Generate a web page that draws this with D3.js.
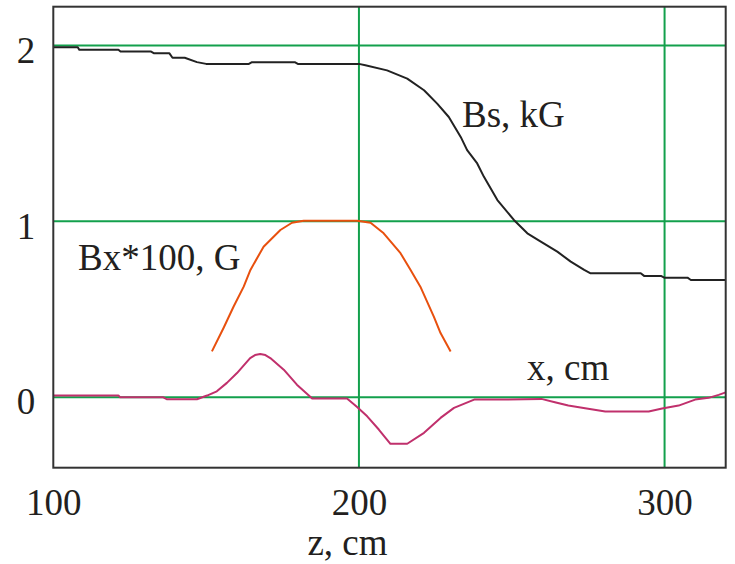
<!DOCTYPE html>
<html><head><meta charset="utf-8">
<script src="https://cdn.jsdelivr.net/npm/d3@7"></script>
<style>body{margin:0;background:#fff}svg{display:block}</style>
</head><body>
<svg id="c" width="735" height="564"></svg>
<script>
// Data (z in cm)
const bsZ = [100,108,108.5,121.3,122,132,133,138,139,143,147,150,164,165,179,180,200,202.1,209.2,215.8,221.3,225.6,229.4,233.3,235.4,238.7,240.9,245.3,250.7,255.1,259.5,264.9,269.3,273.7,275.8,292.2,293.3,298.8,299.9,307.5,308.6,320];
const bsV = [1.99,1.99,1.975,1.975,1.965,1.965,1.955,1.955,1.93,1.93,1.905,1.895,1.895,1.905,1.905,1.895,1.895,1.887,1.858,1.811,1.745,1.669,1.593,1.48,1.405,1.329,1.253,1.121,1.008,0.932,0.885,0.828,0.771,0.724,0.705,0.705,0.69,0.69,0.68,0.68,0.667,0.667];
const bxZ = [151.9,155.7,159.0,162.3,164.5,168.8,174.3,178.1,181.9,199.4,203.8,208.1,213.6,216.9,220.1,224.5,226.7,230.0];
const bxV = [0.261,0.394,0.516,0.629,0.724,0.856,0.951,0.992,1.004,1.004,0.992,0.932,0.819,0.724,0.629,0.459,0.365,0.261];
const xZ = [100,121.3,121.9,136.0,137.1,147.0,150.3,153.5,156.8,160.1,164.4,166.0,167.7,169.4,171.0,175.4,179.7,184.7,196.1,199.4,202.7,206.5,210.3,215.8,221.3,226.7,231.1,237.7,246.4,259.7,264.1,268.5,274.0,280.6,294.8,299.2,304.6,310.0,314.4,317.7,320];
const xV = [0.011,0.011,0,0,-0.011,-0.011,0.01,0.034,0.082,0.138,0.223,0.240,0.246,0.240,0.223,0.157,0.072,-0.007,-0.007,-0.055,-0.108,-0.183,-0.264,-0.264,-0.202,-0.117,-0.06,-0.013,-0.013,-0.009,-0.028,-0.047,-0.062,-0.081,-0.081,-0.064,-0.047,-0.013,-0.003,0.014,0.028];
const xTicks = [100,200,300];
const yTicks = [0,1,2];
const xGrid = [200,300];
const yGrid = [0,1,2];
const seriesLabels = ["Bs, kG","Bx*100, G","x, cm"];
const xTitle = "z, cm";

const svg = d3.select("#c");
const L=53.3,R=725.7,T=6.7,B=467.7;
const x = d3.scaleLinear().domain([100,320]).range([L,R]);
const y = d3.scaleLinear().domain([-0.4,2.22]).range([B,T]);
const font = "'Liberation Serif','Times New Roman',serif";
const green = "#13a04c";
const fs = 37;

// grid
svg.append("g").selectAll("line").data(yGrid).join("line")
  .attr("x1",L).attr("x2",R).attr("y1",d=>y(d)).attr("y2",d=>y(d))
  .attr("stroke",green).attr("stroke-width",2);
svg.append("g").selectAll("line").data(xGrid).join("line")
  .attr("y1",T).attr("y2",B).attr("x1",d=>x(d)).attr("x2",d=>x(d))
  .attr("stroke",green).attr("stroke-width",2);

// axes labels
const yAx = d3.axisLeft(y).tickValues(yTicks).tickSize(0).tickPadding(18).tickFormat(d3.format("d"));
const gy = svg.append("g").attr("transform",`translate(${L},0)`).call(yAx);
gy.select(".domain").remove();
gy.selectAll("text").attr("font-family",font).attr("font-size",fs).attr("fill","#231f20").attr("dy","0.45em");
const xAx = d3.axisBottom(x).tickValues(xTicks).tickSize(0).tickPadding(21).tickFormat(d3.format("d"));
const gx = svg.append("g").attr("transform",`translate(0,${B})`).call(xAx);
gx.select(".domain").remove();
gx.selectAll("text").attr("font-family",font).attr("font-size",fs).attr("fill","#231f20");

// curves
const line = d3.line();
function draw(zs,vs,color){
  svg.append("path").attr("d",line(zs.map((z,i)=>[x(z),y(vs[i])])))
    .attr("fill","none").attr("stroke",color).attr("stroke-width",2).attr("stroke-linejoin","round");
}
draw(bsZ,bsV,"#222222");
draw(bxZ,bxV,"#e8500e");
draw(xZ,xV,"#c0306c");

// frame
svg.append("rect").attr("x",L).attr("y",T).attr("width",R-L).attr("height",B-T)
  .attr("fill","none").attr("stroke","#333").attr("stroke-width",2);

// labels
const lab = [[seriesLabels[0],462,127],[seriesLabels[1],78,270],[seriesLabels[2],527,380]];
svg.selectAll(".lab").data(lab).join("text").attr("class","lab")
  .attr("x",d=>d[1]).attr("y",d=>d[2]).text(d=>d[0])
  .attr("font-family",font).attr("font-size",fs).attr("fill","#231f20");
svg.append("text").attr("x",347.5).attr("y",555).attr("text-anchor","middle").text(xTitle)
  .attr("font-family",font).attr("font-size",fs).attr("fill","#231f20");
</script>
</body></html>
